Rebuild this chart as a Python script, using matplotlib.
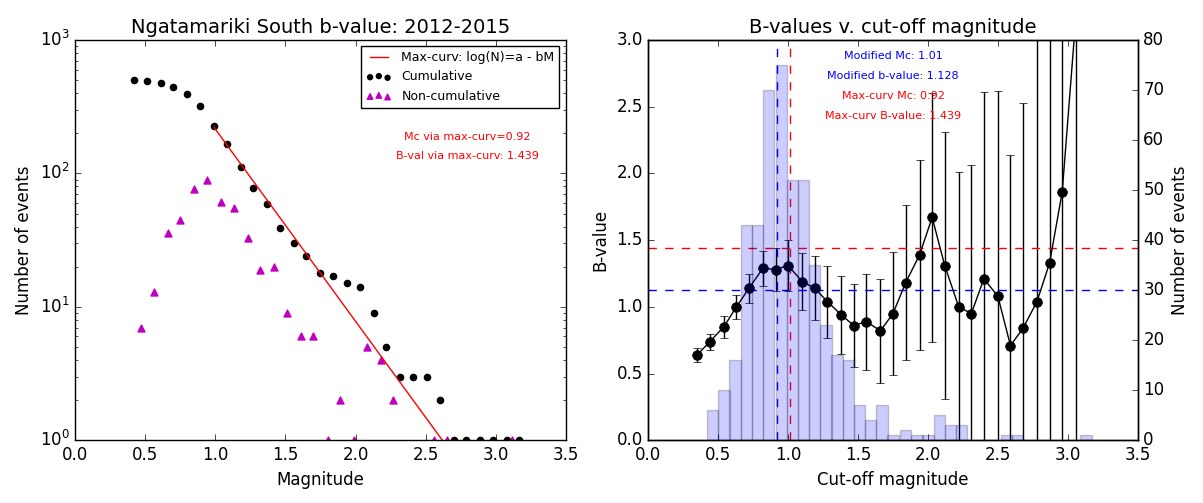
import matplotlib
matplotlib.use('Agg')
import matplotlib.pyplot as plt

plt.style.use('classic')

# left panel: frequency-magnitude distribution
mags = [0.42, 0.51, 0.61, 0.70, 0.80, 0.89, 0.99, 1.08, 1.18, 1.27, 1.37, 1.46, 1.56, 1.65, 1.75,
        1.84, 1.94, 2.03, 2.13, 2.22, 2.32, 2.41, 2.51, 2.60, 2.70, 2.79, 2.89, 2.98, 3.08, 3.17]
cumulative = [500, 492, 480, 443, 397, 318, 228, 166, 111, 78, 59, 39, 30, 24, 18,
              17, 15, 14, 9, 5, 3, 3, 3, 2, 1, 1, 1, 1, 1, 1]
noncum_mags = [0.47, 0.56, 0.66, 0.75, 0.85, 0.94, 1.04, 1.13, 1.23, 1.32, 1.42, 1.51, 1.61, 1.70,
               1.80, 1.89, 1.99, 2.08, 2.18, 2.27, 2.56, 2.65, 3.12]
noncum = [7, 13, 36, 45, 77, 89, 61, 55, 33, 19, 20, 9, 6, 6, 1, 2, 1, 5, 4, 2, 1, 1, 1]
a_val = 3.77
b_maxc = 1.439
mc_maxc = 0.92
fit_start = 6

# right panel: b-value vs cut-off magnitude
cutoffs = [0.35, 0.44, 0.54, 0.63, 0.72, 0.82, 0.91, 1.00, 1.10, 1.19, 1.28, 1.38, 1.47, 1.56, 1.66,
           1.75, 1.84, 1.94, 2.03, 2.12, 2.22, 2.31, 2.40, 2.50, 2.59, 2.68, 2.78, 2.87, 2.96, 3.06]
bvals = [0.64, 0.74, 0.85, 1.00, 1.14, 1.29, 1.28, 1.31, 1.19, 1.14, 1.04, 0.94, 0.86, 0.89, 0.82,
         0.95, 1.18, 1.39, 1.67, 1.31, 1.00, 0.95, 1.21, 1.08, 0.71, 0.84, 1.04, 1.33, 1.86, 3.20]
berrs = [0.05, 0.06, 0.08, 0.09, 0.11, 0.13, 0.16, 0.19, 0.21, 0.24, 0.27, 0.29, 0.31, 0.36, 0.39,
         0.46, 0.58, 0.71, 0.93, 1.00, 1.01, 1.11, 1.40, 1.54, 1.43, 1.69, 2.20, 2.50, 3.00, 3.50]
hist_left = [0.42, 0.50, 0.58, 0.66, 0.74, 0.82, 0.91, 0.99, 1.07, 1.15, 1.23, 1.31, 1.39, 1.47, 1.55, 1.63, 1.71,
             1.80, 1.88, 1.96, 2.04, 2.12, 2.20, 2.28, 2.36, 2.44, 2.52, 2.60, 2.69, 2.77, 2.85, 2.93, 3.01, 3.09]
hist_counts = [6, 10, 16, 43, 43, 70, 75, 52, 52, 35, 23, 17, 16, 7, 4, 7, 1,
               2, 1, 1, 5, 3, 3, 0, 0, 0, 1, 1, 0, 0, 0, 0, 0, 1]
hist_width = 0.081
mod_mc = 1.01
mod_b = 1.128

fig = plt.figure(figsize=(12.03, 5.03), facecolor='white')
ax1 = fig.add_axes([75.3 / 1203, 1 - 440.3 / 503, 490.4 / 1203, 400.3 / 503])
ax3 = fig.add_axes([648.3 / 1203, 1 - 440.3 / 503, 489.4 / 1203, 400.3 / 503])

fit_m = mags[fit_start:]
fit_n = [10 ** (a_val - b_maxc * m) for m in fit_m]
ax1.plot(fit_m, fit_n, color='r', lw=1, label='Max-curv: log(N)=a - bM')
ax1.scatter(mags, cumulative, s=20, c='k', edgecolors='k', label='Cumulative')
ax1.scatter(noncum_mags, noncum, s=25, c='m', marker='^', edgecolors='m', label='Non-cumulative')
ax1.set_yscale('log')
ax1.set_xlim(0, 3.5)
ax1.set_ylim(1, 1000)
ax1.set_title('Ngatamariki South b-value: 2012-2015', fontsize=14)
ax1.set_xlabel('Magnitude')
ax1.set_ylabel('Number of events')
ax1.legend(loc='upper right', fontsize=9, scatterpoints=3, markerscale=0.8)
ax1.text(0.8, 0.758, 'Mc via max-curv=%.2f' % mc_maxc, color='r', fontsize=8,
         ha='center', va='center', transform=ax1.transAxes)
ax1.text(0.8, 0.71, 'B-val via max-curv: %.3f' % b_maxc, color='r', fontsize=8,
         ha='center', va='center', transform=ax1.transAxes)

ax3.errorbar(cutoffs, bvals, yerr=berrs, color='k', marker='o', markersize=7, lw=1, capsize=3)
ax3.axhline(b_maxc, color='r', ls='--', lw=1)
ax3.axhline(mod_b, color='b', ls='--', lw=1)
ax3.axvline(mc_maxc, color='b', ls='--', lw=1)
ax3.axvline(mod_mc, color='r', ls='--', lw=1)
ax3.set_xlim(0, 3.5)
ax3.set_ylim(0, 3.0)
ax3.set_title('B-values v. cut-off magnitude', fontsize=14)
ax3.set_xlabel('Cut-off magnitude')
ax3.set_ylabel('B-value')
ax3.text(0.5, 0.96, 'Modified Mc: %.2f' % mod_mc, color='b', fontsize=8,
         ha='center', va='center', transform=ax3.transAxes)
ax3.text(0.5, 0.91, 'Modified b-value: %.3f' % mod_b, color='b', fontsize=8,
         ha='center', va='center', transform=ax3.transAxes)
ax3.text(0.5, 0.86, 'Max-curv Mc: %.2f' % mc_maxc, color='r', fontsize=8,
         ha='center', va='center', transform=ax3.transAxes)
ax3.text(0.5, 0.81, 'Max-curv B-value: %.3f' % b_maxc, color='r', fontsize=8,
         ha='center', va='center', transform=ax3.transAxes)

ax4 = ax3.twinx()
ax4.bar(hist_left, hist_counts, width=hist_width, align='edge', color='b', edgecolor='k', alpha=0.2)
ax4.set_ylim(0, 80)
ax4.set_xlim(0, 3.5)
ax4.set_ylabel('Number of events')

fig.savefig('out.png', dpi=100, facecolor='white')
